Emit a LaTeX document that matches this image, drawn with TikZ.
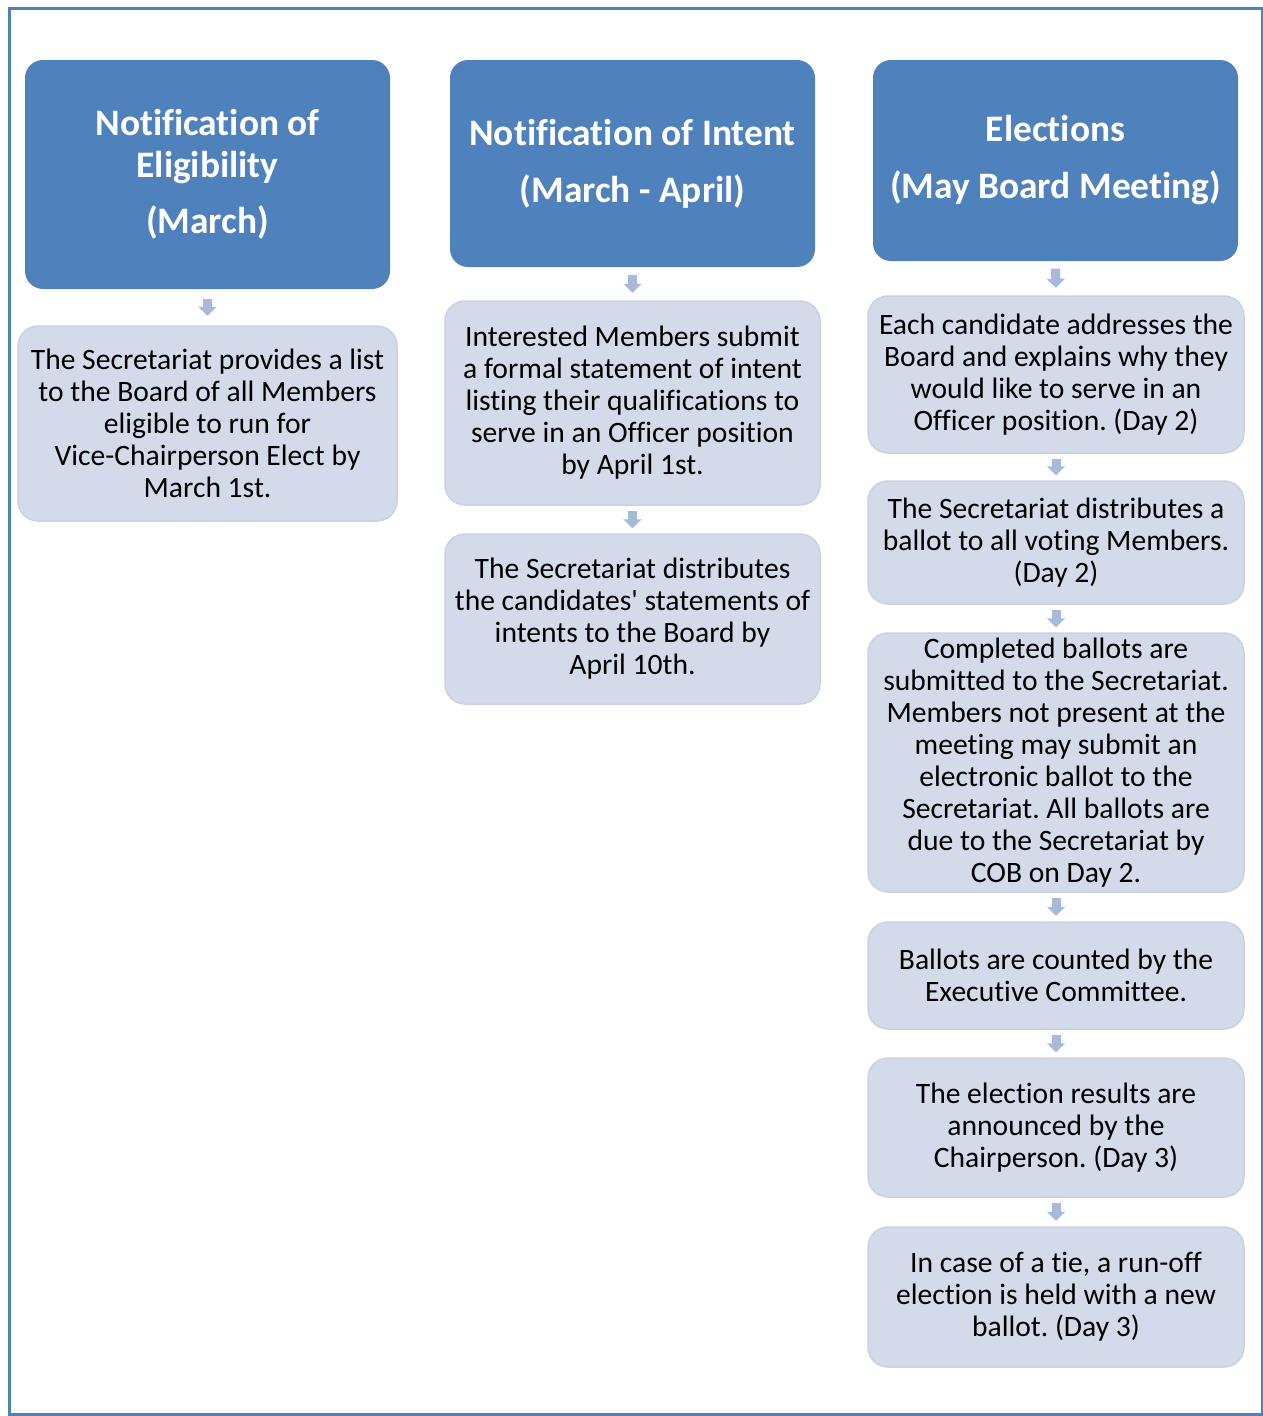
\documentclass[tikz,border=0pt]{standalone}
\usepackage{fontspec}
\setmainfont{Carlito}[Ligatures={TeX,CommonOff}]
\usetikzlibrary{arrows.meta}
\definecolor{hdrblue}{RGB}{79,129,189}
\definecolor{boxfill}{RGB}{211,219,234}
\definecolor{boxline}{RGB}{200,210,228}
\definecolor{arrowblue}{RGB}{167,186,219}
\frenchspacing
\begin{document}
\begin{tikzpicture}[x=1pt,y=-1pt,
  hdr/.style={rectangle, rounded corners=18pt, fill=hdrblue, text=white, inner sep=0pt,
    align=center, font=\bfseries\fontsize{37.4}{42}\selectfont},
  stepbox/.style={rectangle, rounded corners=20pt, fill=boxfill, draw=boxline, line width=1.5pt,
    inner sep=0pt, align=center, text=black, font=\fontsize{29.6}{32}\selectfont},
  flow/.style={draw=arrowblue, line width=9pt, -{Triangle[width=18pt,length=9pt]},
    shorten <=#1, shorten >=#1}
]
\useasboundingbox (0,0) rectangle (1263,1416);
\draw[hdrblue, line width=3pt] (9,8) rectangle (1262,1414);

% column 1
\node[hdr, minimum width=365pt, minimum height=229pt] (h1) at (207.5,174.5)
  {Notification of\\Eligibility\\[14pt](March)};
\node[stepbox, minimum width=379pt, minimum height=195pt] (a1) at (207.5,423.5)
  {The Secretariat provides a list\\to the Board of all Members\\eligible to run for\\Vice-Chairperson Elect by\\March 1st.};

% column 2
\node[hdr, minimum width=365pt, minimum height=207pt] (h2) at (632.5,163.5)
  {Notification of Intent\\[15pt](March - April)};
\node[stepbox, minimum width=375pt, minimum height=204pt] (b1) at (632.5,403)
  {Interested Members submit\\a formal statement of intent\\listing their qualifications to\\serve in an Officer position\\by April 1st.};
\node[stepbox, minimum width=375pt, minimum height=170pt] (b2) at (632.5,619)
  {The Secretariat distributes\\the candidates\textquotesingle{} statements of\\intents to the Board by\\April 10th.};

% column 3
\node[hdr, minimum width=365pt, minimum height=201pt] (h3) at (1055.5,160.5)
  {Elections\\[15pt](May Board Meeting)};
\node[stepbox, minimum width=376pt, minimum height=157pt] (c1) at (1056,374.5)
  {Each candidate addresses the\\Board and explains why they\\would like to serve in an\\Officer position. (Day 2)};
\node[stepbox, minimum width=376pt, minimum height=123pt] (c2) at (1056,542.5)
  {The Secretariat distributes a\\ballot to all voting Members.\\(Day 2)};
\node[stepbox, minimum width=376pt, minimum height=259pt] (c3) at (1056,762.5)
  {Completed ballots are\\submitted to the Secretariat.\\Members not present at the\\meeting may submit an\\electronic ballot to the\\Secretariat. All ballots are\\due to the Secretariat by\\COB on Day 2.};
\node[stepbox, minimum width=376pt, minimum height=107pt] (c4) at (1056,975.5)
  {Ballots are counted by the\\Executive Committee.};
\node[stepbox, minimum width=376pt, minimum height=139pt] (c5) at (1056,1127.5)
  {The election results are\\announced by the\\Chairperson. (Day 3)};
\node[stepbox, minimum width=376pt, minimum height=140pt] (c6) at (1056,1297)
  {In case of a tie, a run-off\\election is held with a new\\ballot. (Day 3)};

% arrows
\draw[flow=9.5pt] (h1.south) -- (a1.north);
\draw[flow=7.5pt] (h2.south) -- (b1.north);
\draw[flow=5pt] (b1.south) -- (b2.north);
\draw[flow=7.5pt] (h3.south) -- (c1.north);
\draw[flow=5pt] (c1.south) -- (c2.north);
\draw[flow=5pt] (c2.south) -- (c3.north);
\draw[flow=5.5pt] (c3.south) -- (c4.north);
\draw[flow=5pt] (c4.south) -- (c5.north);
\draw[flow=5.5pt] (c5.south) -- (c6.north);
\end{tikzpicture}
\end{document}
